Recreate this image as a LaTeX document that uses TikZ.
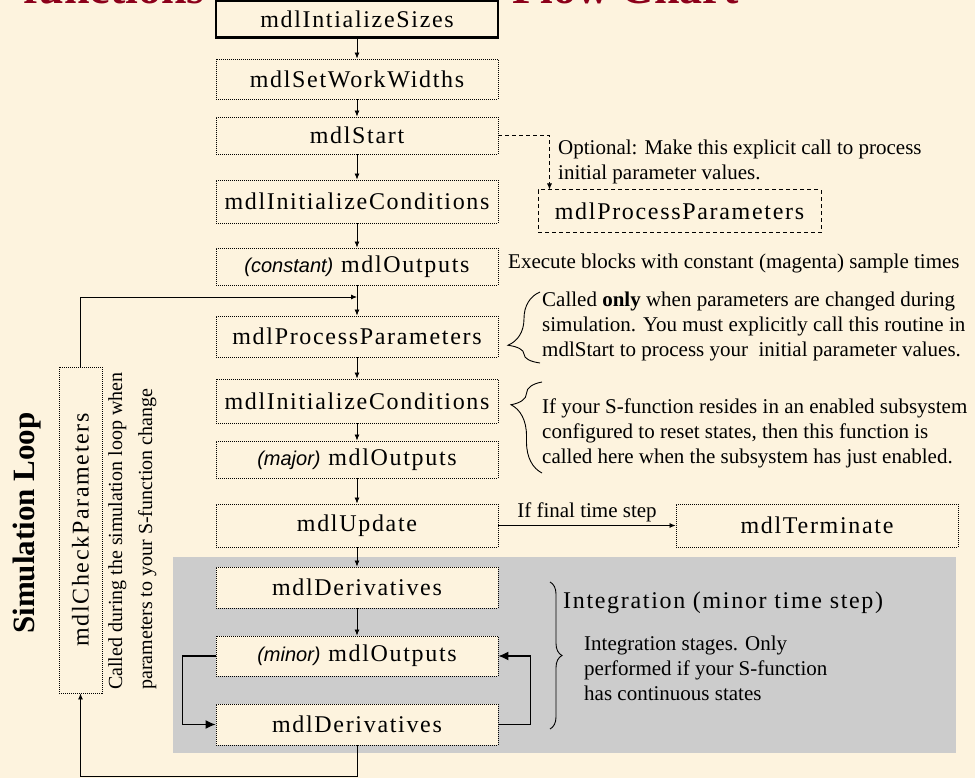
\documentclass[tikz,border=0pt]{standalone}
\usepackage{fontspec}
\setmainfont{Liberation Serif}
\newfontfamily\boxfont[LetterSpace=7]{Liberation Serif}
\newfontfamily\tagfont{Liberation Sans}
\usepackage{tikz}
\usetikzlibrary{arrows.meta, decorations.pathreplacing}
\definecolor{creambg}{RGB}{253,243,222}
\definecolor{loopgray}{RGB}{204,204,204}
\definecolor{titlered}{RGB}{140,0,26}

\begin{document}
\begin{tikzpicture}[x=1pt, y=-1pt,
  fnbox/.style={draw, line width=0.9pt, dash pattern=on 1pt off 1pt, fill=creambg,
    minimum width=282pt, minimum height=40pt, inner sep=0pt,
    font=\boxfont\fontsize{24}{28}\selectfont},
  flow/.style={-{Latex[length=6pt,width=5pt]}, line width=0.8pt},
  loopflow/.style={-{Latex[length=10pt,width=9pt]}, line width=1.2pt},
  note/.style={align=left, inner sep=0pt, font=\fontsize{21}{25}\selectfont},
  brc/.style={decorate, line width=0.9pt}]

\useasboundingbox (0,0) rectangle (975,778);
\clip (0,0) rectangle (975,778);
\fill[creambg] (0,0) rectangle (975,778);
\fill[loopgray] (173,557) rectangle (956,753);

\node[anchor=base east, inner sep=0pt, text=titlered, font=\fontsize{46}{50}\selectfont\bfseries] (ttlA) at (205,4) {functions};
\node[anchor=base west, inner sep=0pt, text=titlered, font=\fontsize{46}{50}\selectfont\bfseries] (ttlB) at (512,4) {Flow Chart};

\node[fnbox, solid, line width=2.5pt, minimum height=37pt] (sizes) at (357,19) {mdlIntializeSizes};
\node[fnbox] (widths) at (357,79) {mdlSetWorkWidths};
\node[fnbox, minimum height=37pt] (start) at (357,135.5) {mdlStart};
\node[fnbox, minimum height=43pt] (initA) at (357,201.5) {mdlInitializeConditions};
\node[fnbox, minimum height=37pt] (outC) at (357,266.5) {{\tagfont\itshape\fontsize{20}{24}\selectfont (constant)} mdlOutputs};
\node[fnbox, minimum height=41pt] (procA) at (357,336.5) {mdlProcessParameters};
\node[fnbox, minimum height=44pt] (initB) at (357,401) {mdlInitializeConditions};
\node[fnbox, minimum height=37pt] (outM) at (357,459.5) {{\tagfont\itshape\fontsize{20}{24}\selectfont (major)} mdlOutputs};
\node[fnbox, minimum height=43pt] (update) at (357,525.5) {mdlUpdate};
\node[fnbox, minimum height=41pt] (derA) at (357,587.5) {mdlDerivatives};
\node[fnbox] (outN) at (357,656) {{\tagfont\itshape\fontsize{20}{24}\selectfont (minor)} mdlOutputs};
\node[fnbox, minimum height=41pt] (derB) at (357,724.5) {mdlDerivatives};
\node[fnbox, minimum height=43pt] (term) at (817,525.5) {mdlTerminate};
\node[fnbox, dash pattern=on 4pt off 3pt, line width=1pt, minimum width=283pt, minimum height=43pt] (procB) at (679.5,211.5) {mdlProcessParameters};
\node[fnbox, rotate=90, minimum width=326pt, minimum height=43pt] (check) at (80.5,530) {mdlCheckParameters};

\node[rotate=90, inner sep=0pt, font=\fontsize{31}{35}\selectfont\bfseries] (simloop) at (27,523) {Simulation Loop};
\node[note, rotate=90, anchor=north west, font=\fontsize{20}{30}\selectfont] (checknote) at (108,690) {Called during the simulation loop when\\parameters to your S-function change};

\foreach \a/\b in {sizes/widths, widths/start, start/initA, initA/outC, outC/procA,
  procA/initB, initB/outM, outM/update, update/derA, derA/outN}
  \draw[flow] (\a) -- (\b);

\coordinate (rejoin) at (357,297);
\draw[flow] (check.east) |- (rejoin);
\draw[flow] (derB.south) -- ++(0,31) -| (check.west);
\draw[loopflow] (outN.west) -- ++(-33,0) |- (derB.west);
\draw[loopflow] (derB.east) -- ++(32,0) |- (outN.east);
\draw[flow] (update) -- node[above=3pt, note] (finalnote) {If final time step} (term);
\draw[flow, dash pattern=on 4pt off 3pt] (start.east) -| ([xshift=12pt]procB.north west);

\draw[brc, decoration={brace, amplitude=32pt, aspect=0.25}] (540,363) -- (540,292);
\draw[brc, decoration={brace, amplitude=31pt, aspect=0.75}] (542,473) -- (542,382);
\draw[brc, decoration={brace, amplitude=12pt, aspect=0.5}] (550,582) -- (550,729);

\node[note, anchor=north west] (optnote) at (558,140) {Optional: Make this explicit call to process\\initial parameter values.};
\node[note, anchor=west] (constnote) at (508,263) {Execute blocks with constant (magenta) sample times};
\node[note, anchor=north west] (procnote) at (542,292) {Called \textbf{only} when parameters are changed during\\simulation. You must explicitly call this routine in\\mdlStart to process your~ initial parameter values.};
\node[note, anchor=north west] (initnote) at (542,399) {If your S-function resides in an enabled subsystem\\configured to reset states, then this function is\\called here when the subsystem has just enabled.};
\node[anchor=west, inner sep=0pt, font=\boxfont\fontsize{24}{28}\selectfont] (integ) at (563,603) {Integration (minor time step)};
\node[note, anchor=north west] (integnote) at (584,636) {Integration stages. Only\\performed if your S-function\\has continuous states};
\end{tikzpicture}
\end{document}
